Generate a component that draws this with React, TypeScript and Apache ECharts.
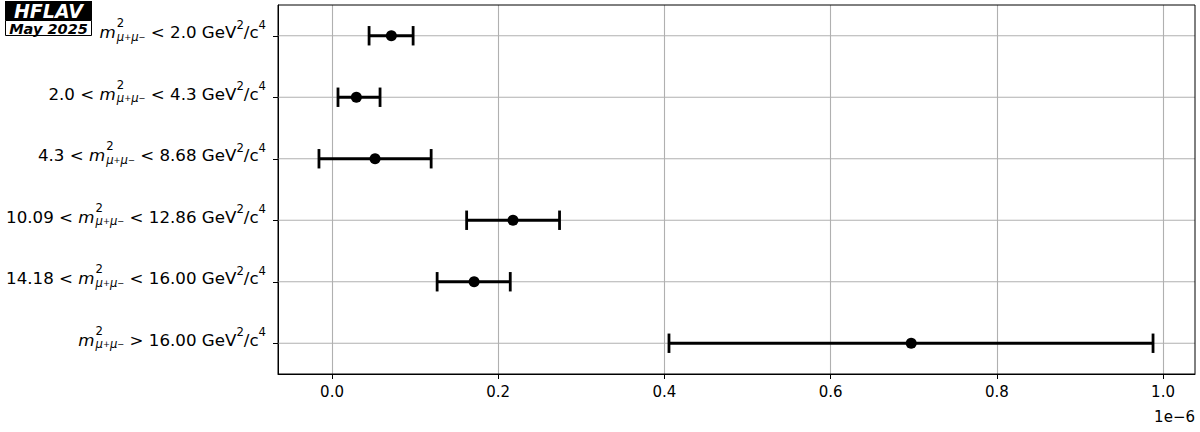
import React, { useEffect, useRef } from 'react';
import * as echarts from 'echarts';

// ---- data (x values in units of 1e-6) ----
const binLow: (string | null)[] = [null, '2.0', '4.3', '10.09', '14.18', '16.00'];
const binHigh: (string | null)[] = ['2.0', '4.3', '8.68', '12.86', '16.00', null];
const centralValues = [0.0714, 0.0293, 0.0518, 0.2178, 0.171, 0.697];
const lowerBounds = [0.0446, 0.0072, -0.0157, 0.162, 0.1265, 0.4055];
const upperBounds = [0.0976, 0.0578, 0.1193, 0.2738, 0.2145, 0.988];
const xTickValues = [0.0, 0.2, 0.4, 0.6, 0.8, 1.0];
const xMin = -0.065;
const xMax = 1.0385;
const offsetLabel = '1e\u22126';
const stampTitle = 'HFLAV';
const stampDate = 'May 2025';

const categories = binLow.map((lo, i) => {
  const hi = binHigh[i];
  const m = 'm²(μ⁺μ⁻)';
  if (lo && hi) return `${lo} < ${m} < ${hi} GeV²/c⁴`;
  if (hi) return `${m} < ${hi} GeV²/c⁴`;
  return `${m} > ${lo} GeV²/c⁴`;
});

const FONT = 'DejaVu Sans';

function richLabel(i: number): string {
  const lo = binLow[i];
  const hi = binHigh[i];
  const mass = '{mi|m}{sp|2}{sb|μ}{ss|+}{sb|μ}{ss|\u2212}';
  let s: string;
  if (lo && hi) s = `{n|${lo} < }${mass}{n| < ${hi} GeV}`;
  else if (hi) s = `${mass}{n| < ${hi} GeV}`;
  else s = `${mass}{n| > ${lo} GeV}`;
  return s + '{su|2}{n|/c}{su|4}';
}

const base = { fontFamily: FONT, color: '#000', lineHeight: 40, verticalAlign: 'top', align: 'left' };
const rich = {
  n: { ...base, fontSize: 16.67, padding: [8.4, 0, 0, 0] },
  mi: { ...base, fontSize: 16.67, fontStyle: 'italic', padding: [8.4, 0, 0, 0] },
  sp: { ...base, fontSize: 11.67, width: 0.01, padding: [1.5, 0, 0, 1] },
  sb: { ...base, fontSize: 11.67, fontStyle: 'italic', padding: [15.1, 0, 0, 0] },
  ss: { ...base, fontSize: 8.33, padding: [17, 0, 0, 0] },
  su: { ...base, fontSize: 11.67, padding: [3, 0, 0, 0] },
};

export default function App() {
  const ref = useRef<HTMLDivElement>(null);
  useEffect(() => {
    if (!ref.current) return;
    const chart = echarts.init(ref.current, null, { renderer: 'svg' });
    chart.setOption({
      animation: false,
      backgroundColor: '#fff',
      grid: { left: 278, right: 5, top: 5, bottom: 58, show: true, borderColor: '#000', borderWidth: 1, z: 10 },
      xAxis: {
        type: 'value',
        min: xMin,
        max: xMax,
        axisLine: { show: true, onZero: false, lineStyle: { color: '#000', width: 1 } },
        axisTick: { show: true, length: 5, lineStyle: { color: '#000', width: 1 }, customValues: xTickValues },
        axisLabel: {
          customValues: xTickValues,
          formatter: (v: number) => v.toFixed(1),
          color: '#000',
          fontSize: 15,
          fontFamily: FONT,
          margin: 10,
        },
        splitLine: { show: true, lineStyle: { color: '#b0b0b0', width: 1.1 } },
      },
      yAxis: {
        type: 'category',
        data: categories,
        inverse: true,
        axisLine: { show: true, onZero: false, lineStyle: { color: '#000', width: 1 } },
        axisTick: { show: true, alignWithLabel: true, length: 5, lineStyle: { color: '#000', width: 1 } },
        axisLabel: {
          margin: 12,
          formatter: (_v: string, i: number) => richLabel(i),
          rich,
        },
        splitLine: { show: false },
      },
      graphic: [
        { type: 'rect', shape: { x: 5, y: 1, width: 87, height: 19.5 }, style: { fill: '#000' }, z: 20 },
        {
          type: 'text', x: 48.5, y: 11, z: 21,
          style: { text: stampTitle, fill: '#fff', fontFamily: FONT, fontSize: 19, fontWeight: 'bold', fontStyle: 'italic', align: 'center', verticalAlign: 'middle' },
        },
        { type: 'rect', shape: { x: 5.5, y: 20.5, width: 86, height: 15 }, style: { fill: '#fff', stroke: '#000', lineWidth: 1 }, z: 20 },
        {
          type: 'text', x: 48.5, y: 28.5, z: 21,
          style: { text: stampDate, fill: '#000', fontFamily: FONT, fontSize: 14.5, fontWeight: 'bold', fontStyle: 'italic', align: 'center', verticalAlign: 'middle' },
        },
        {
          type: 'text', x: 1195, y: 417, z: 21,
          style: { text: offsetLabel, fill: '#000', fontFamily: FONT, fontSize: 15, align: 'right', verticalAlign: 'middle' },
        },
      ],
      series: [
        {
          type: 'custom',
          silent: true,
          z: 1,
          data: categories.map((_c, i) => [0, i]),
          encode: { x: 0, y: 1 },
          renderItem: (params: any, api: any) => {
            const p = api.coord([0, api.value(1)]);
            const cs = params.coordSys;
            return {
              type: 'line',
              shape: { x1: cs.x, y1: p[1], x2: cs.x + cs.width, y2: p[1] },
              style: { stroke: '#b0b0b0', lineWidth: 1.1 },
            };
          },
        },
        {
          type: 'custom',
          z: 2,
          data: lowerBounds.map((lo, i) => [lo, upperBounds[i], i]),
          encode: { x: [0, 1], y: 2 },
          renderItem: (_params: any, api: any) => {
            const a = api.coord([api.value(0), api.value(2)]);
            const b = api.coord([api.value(1), api.value(2)]);
            const cap = 9.7;
            const style = { stroke: '#000', lineWidth: 2.8 };
            return {
              type: 'group',
              children: [
                { type: 'line', shape: { x1: a[0], y1: a[1], x2: b[0], y2: b[1] }, style },
                { type: 'line', shape: { x1: a[0], y1: a[1] - cap, x2: a[0], y2: a[1] + cap }, style },
                { type: 'line', shape: { x1: b[0], y1: b[1] - cap, x2: b[0], y2: b[1] + cap }, style },
              ],
            };
          },
        },
        {
          type: 'scatter',
          z: 3,
          symbol: 'circle',
          symbolSize: 11,
          itemStyle: { color: '#000', opacity: 1 },
          data: centralValues.map((v, i) => [v, i]),
        },
      ],
    });
    return () => chart.dispose();
  }, []);
  return <div ref={ref} style={{ position: 'fixed', left: 0, top: 0, width: 1200, height: 432 }} />;
}
